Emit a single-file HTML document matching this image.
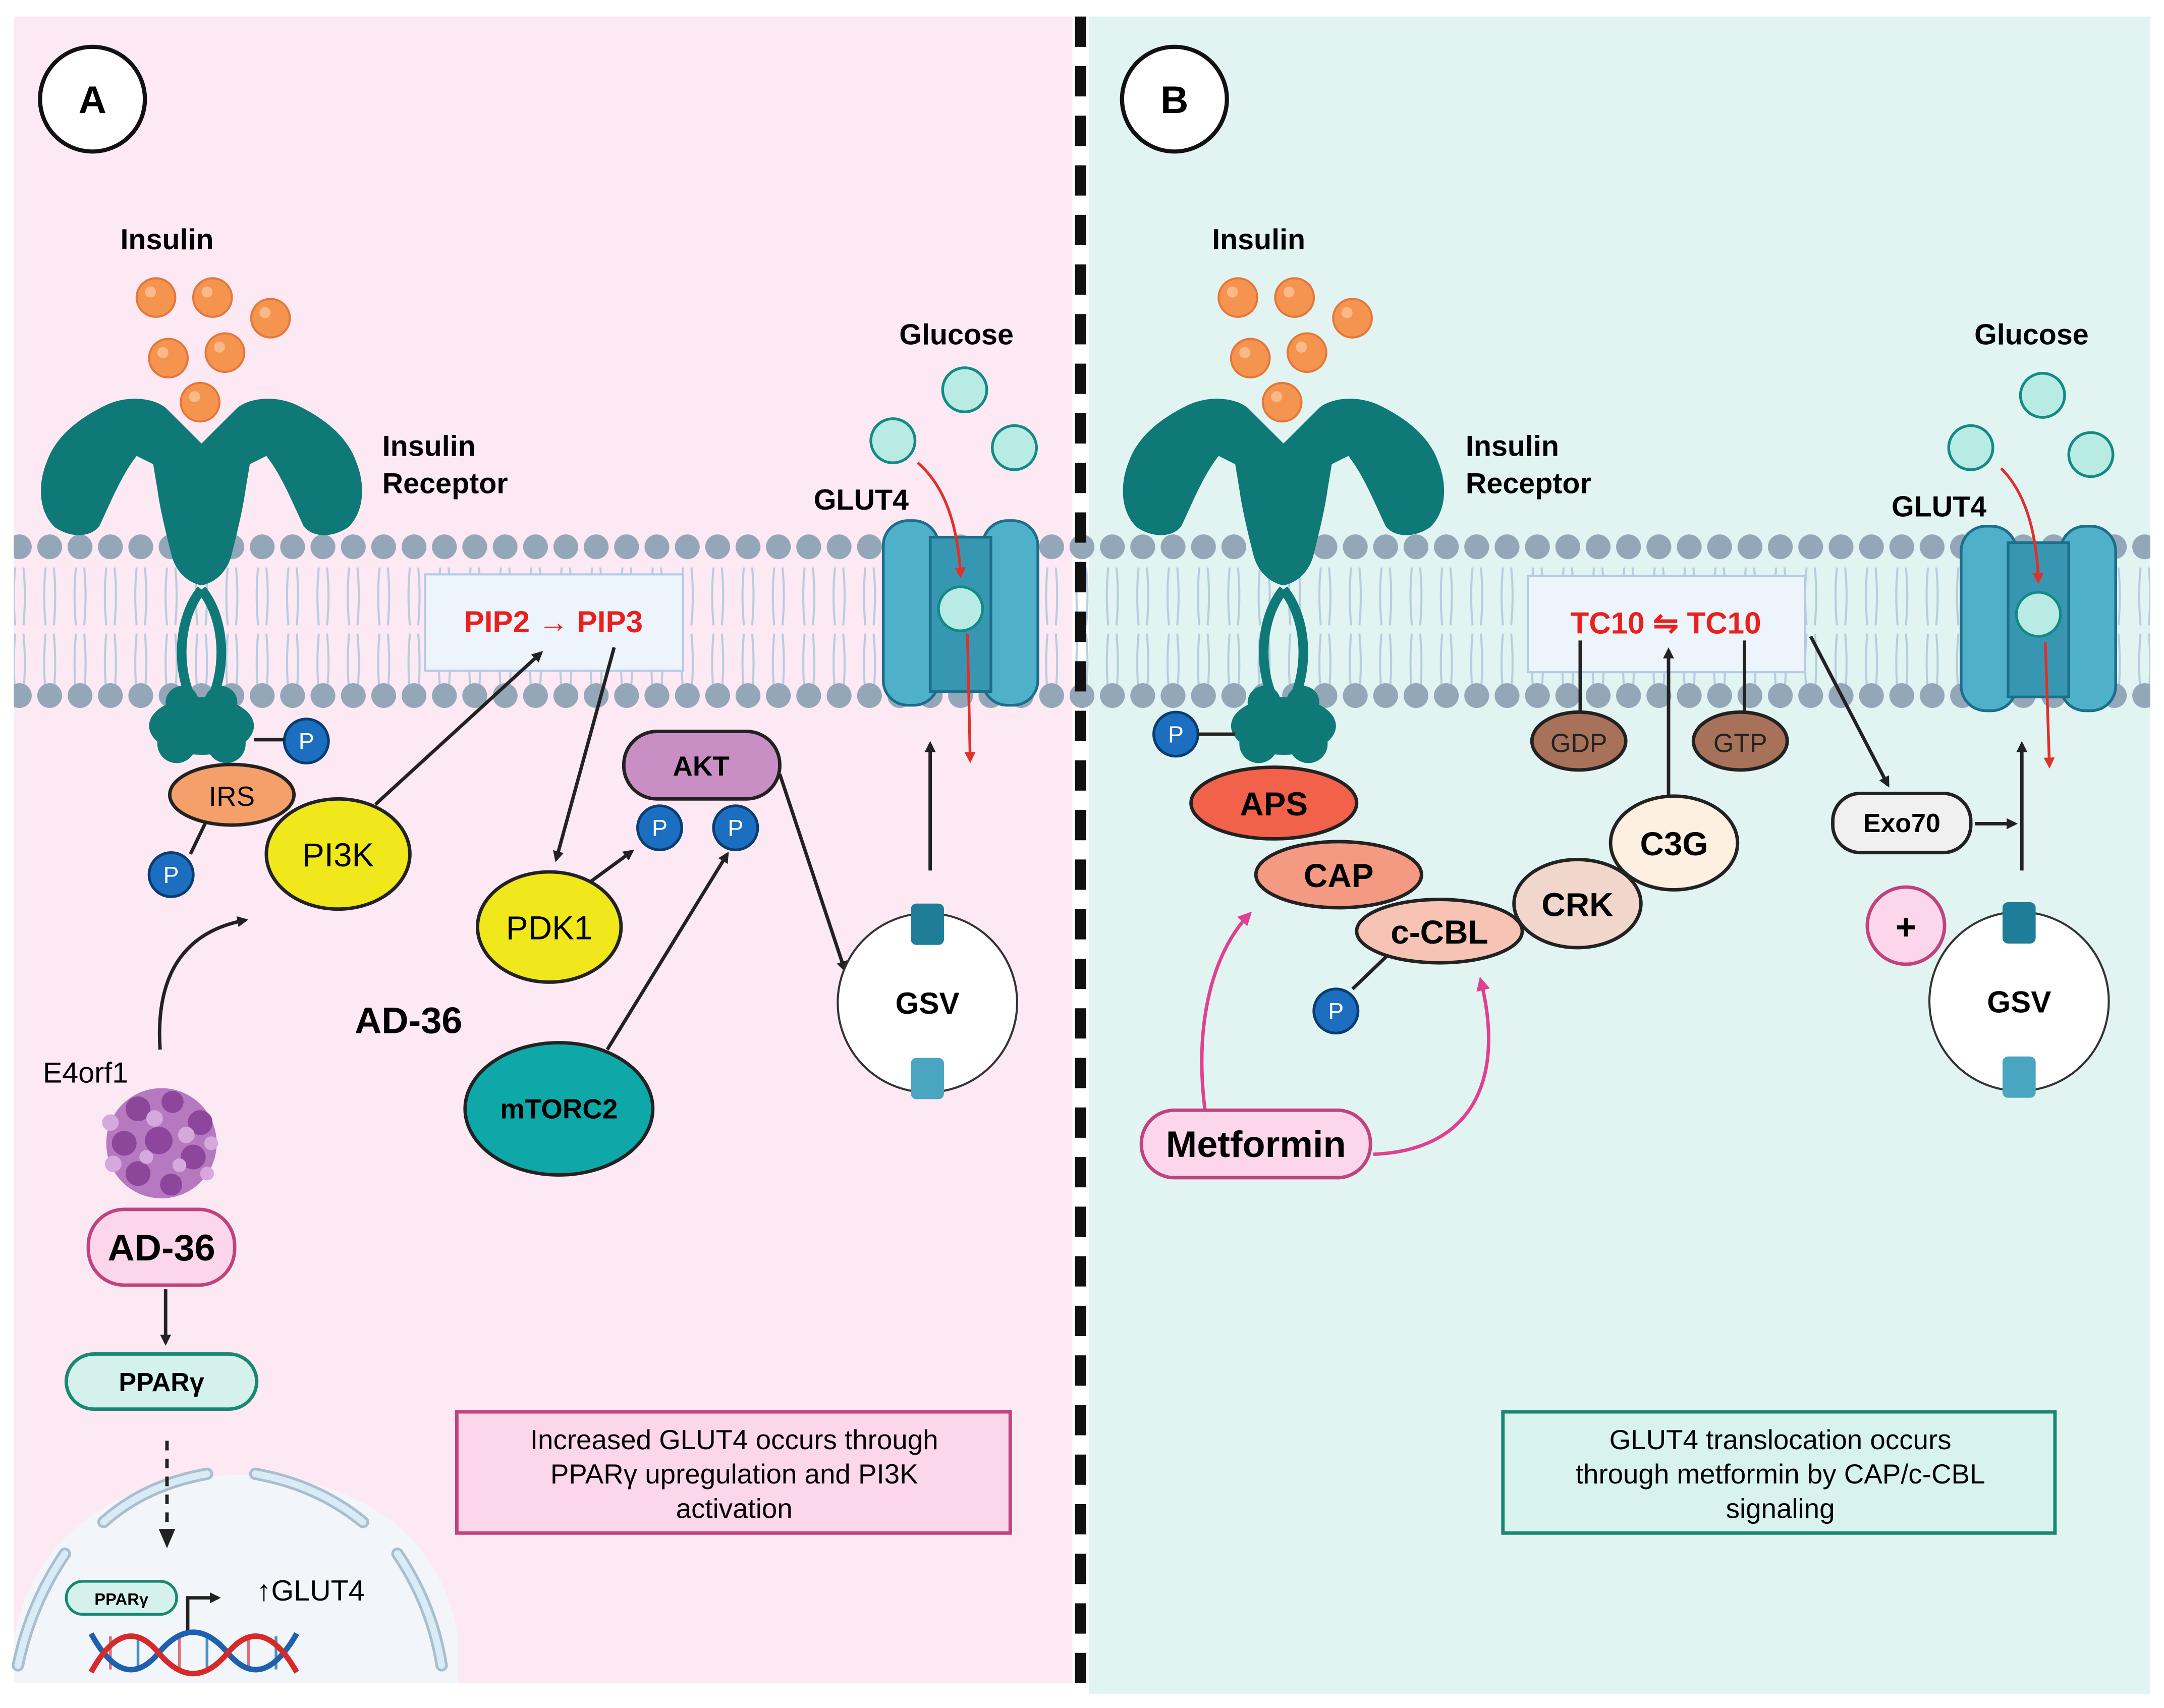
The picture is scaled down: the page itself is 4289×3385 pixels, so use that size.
<!DOCTYPE html>
<html><head><meta charset="utf-8"><style>
html,body{margin:0;padding:0;background:#fff;}
svg{display:block;}
text{font-family:"Liberation Sans",sans-serif;}
</style></head><body>
<svg width="4289" height="3385" viewBox="0 0 1568 1240" preserveAspectRatio="none" xmlns="http://www.w3.org/2000/svg">
<defs>
<marker id="ab" markerWidth="8" markerHeight="8" refX="6" refY="4" orient="auto" markerUnits="userSpaceOnUse"><path d="M0,0 L8,4 L0,8 z" fill="#222"/></marker>
<marker id="ar" markerWidth="8" markerHeight="8" refX="6" refY="4" orient="auto" markerUnits="userSpaceOnUse"><path d="M0,0 L8,4 L0,8 z" fill="#e0302a"/></marker>
<marker id="ap" markerWidth="10" markerHeight="10" refX="7" refY="5" orient="auto" markerUnits="userSpaceOnUse"><path d="M0,0 L10,5 L0,10 z" fill="#e0408f"/></marker>
<pattern id="heads" x="3" y="382" width="22" height="108" patternUnits="userSpaceOnUse"><circle cx="11" cy="15" r="9" fill="#93a7b8"/></pattern>
<pattern id="tails" x="3" y="412" width="22" height="90" patternUnits="userSpaceOnUse">
<path d="M8,0 Q6,20 8,42 M14,0 Q16,20 14,42 M8,90 Q6,70 8,48 M14,90 Q16,70 14,48" stroke="#b6cde0" stroke-width="1.5" fill="none"/></pattern>
<g id="ins"><circle r="14" fill="#f5944f" stroke="#e5763a" stroke-width="1.5"/><circle cx="-4" cy="-4" r="4" fill="#f9b98a"/></g>
<g id="glc"><circle r="16" fill="#b8ebe3" stroke="#148a85" stroke-width="2"/></g>
<g id="P"><circle r="16" fill="#1c6fc0" stroke="#0a3d70" stroke-width="2"/><text y="6" text-anchor="middle" font-size="17" fill="#fff">P</text></g>
<g id="rec" fill="#0f7977">
<path d="M146,322 L120,296 C110,288 90,287 75,295 C55,305 40,318 34,335 C27,352 28,372 40,383 C52,391 66,390 72,382 C80,365 88,345 99,331 L111,337 L114,355 C116,370 121,390 124,402 C127,415 136,423 146,425 C156,423 165,415 168,402 C171,390 176,370 178,355 L181,337 L193,331 C204,345 212,365 220,382 C226,390 240,391 252,383 C264,372 265,352 258,335 C252,318 237,305 217,295 C202,287 182,288 172,296 Z"/>
<path d="M146,428 C128,450 128,488 140,510 M146,428 C164,450 164,488 152,510" fill="none" stroke="#0f7977" stroke-width="7"/>
<ellipse cx="146" cy="527" rx="38" ry="21"/><circle cx="128" cy="540" r="14"/><circle cx="164" cy="540" r="14"/><circle cx="132" cy="510" r="12"/><circle cx="160" cy="510" r="12"/>
</g>
<g id="glut">
<rect x="-56" y="-64" width="40" height="134" rx="18" fill="#4fb0c9" stroke="#1b6f8a" stroke-width="2"/>
<rect x="16" y="-64" width="40" height="134" rx="18" fill="#4fb0c9" stroke="#1b6f8a" stroke-width="2"/>
<rect x="-22" y="-52" width="44" height="112" fill="#3797b2" stroke="#1b6f8a" stroke-width="2"/>
<circle cx="0" cy="0" r="16" fill="#b8ebe3" stroke="#148a85" stroke-width="2"/>
</g>
<g id="gsv"><circle r="65" fill="#fff" stroke="#333" stroke-width="1.5"/>
<rect x="-12" y="-72" width="24" height="30" rx="4" fill="#1f7d97"/><rect x="-12" y="40" width="24" height="30" rx="4" fill="#4aa6c0"/>
<text y="8" text-anchor="middle" font-size="22" font-weight="bold">GSV</text></g>
</defs>
<rect width="1568" height="1240" fill="#fff"/>
<rect x="10" y="12" width="767" height="1210" fill="#fde9f4"/>
<rect x="789" y="12" width="769" height="1218" fill="#e1f4f2"/>
<!-- membrane -->
<rect x="10" y="412" width="1548" height="90" fill="url(#tails)"/>
<rect x="10" y="382" width="1548" height="30" fill="url(#heads)"/>
<rect x="10" y="490" width="1548" height="30" fill="url(#heads)"/>
<line x1="783" y1="12" x2="783" y2="1230" stroke="#111" stroke-width="8" stroke-dasharray="22,14"/>
<circle cx="67" cy="72" r="38" fill="#fff" stroke="#111" stroke-width="3"/><text x="67" y="82" text-anchor="middle" font-size="28" font-weight="bold">A</text>
<circle cx="851" cy="72" r="38" fill="#fff" stroke="#111" stroke-width="3"/><text x="851" y="82" text-anchor="middle" font-size="28" font-weight="bold">B</text>

<!-- PANEL A -->
<text x="121" y="181" text-anchor="middle" font-size="21" font-weight="bold">Insulin</text>
<use href="#ins" x="113" y="216"/><use href="#ins" x="154" y="216"/><use href="#ins" x="196" y="231"/><use href="#ins" x="122" y="260"/><use href="#ins" x="163" y="256"/>
<use href="#rec"/>
<use href="#ins" x="145" y="292"/>
<text x="277" y="331" font-size="21" font-weight="bold">Insulin</text><text x="277" y="358" font-size="21" font-weight="bold">Receptor</text>
<rect x="308" y="417" width="187" height="70" fill="#eef4fb" stroke="#b5cbe3" stroke-width="1.5"/>
<text x="401" y="459" text-anchor="middle" font-size="22" font-weight="bold" fill="#e8201e">PIP2 → PIP3</text>
<text x="693" y="250" text-anchor="middle" font-size="21" font-weight="bold">Glucose</text>
<use href="#glc" x="699" y="283"/><use href="#glc" x="647" y="320"/><use href="#glc" x="735" y="325"/>
<text x="624" y="370" text-anchor="middle" font-size="21" font-weight="bold">GLUT4</text>
<use href="#glut" x="696" y="442"/>
<path d="M665,336 Q693,360 696,418" stroke="#e0302a" stroke-width="2" fill="none" marker-end="url(#ar)"/>
<line x1="701" y1="460" x2="703" y2="552" stroke="#e0302a" stroke-width="2" marker-end="url(#ar)"/>
<use href="#P" x="222" y="538"/><line x1="184" y1="537" x2="206" y2="537" stroke="#222" stroke-width="2.5"/>
<line x1="138" y1="620" x2="150" y2="595" stroke="#222" stroke-width="2.5"/>
<ellipse cx="168" cy="577" rx="45" ry="22" fill="#f5a06a" stroke="#222" stroke-width="2.5"/><text x="168" y="585" text-anchor="middle" font-size="20">IRS</text>
<use href="#P" x="124" y="635"/>
<ellipse cx="245" cy="620" rx="52" ry="40" fill="#f0e81a" stroke="#222" stroke-width="2.5"/><text x="245" y="629" text-anchor="middle" font-size="24">PI3K</text>
<line x1="272" y1="584" x2="392" y2="474" stroke="#222" stroke-width="2.5" marker-end="url(#ab)"/>
<line x1="445" y1="470" x2="403" y2="624" stroke="#222" stroke-width="2.5" marker-end="url(#ab)"/>
<ellipse cx="398" cy="673" rx="52" ry="40" fill="#f0e81a" stroke="#222" stroke-width="2.5"/><text x="398" y="682" text-anchor="middle" font-size="24">PDK1</text>
<line x1="428" y1="640" x2="458" y2="618" stroke="#222" stroke-width="2.5" marker-end="url(#ab)"/>
<rect x="452" y="531" width="113" height="49" rx="24" fill="#c98fc5" stroke="#222" stroke-width="2.5"/><text x="508" y="563" text-anchor="middle" font-size="20" font-weight="bold">AKT</text>
<use href="#P" x="478" y="601"/><use href="#P" x="533" y="601"/>
<line x1="440" y1="762" x2="527" y2="620" stroke="#222" stroke-width="2.5" marker-end="url(#ab)"/>
<ellipse cx="405" cy="805" rx="68" ry="48" fill="#0ea8a8" stroke="#222" stroke-width="2.5"/><text x="405" y="812" text-anchor="middle" font-size="20" font-weight="bold">mTORC2</text>
<line x1="565" y1="562" x2="612" y2="704" stroke="#222" stroke-width="2.5" marker-end="url(#ab)"/>
<text x="296" y="750" text-anchor="middle" font-size="27" font-weight="bold">AD-36</text>
<use href="#gsv" x="672" y="728"/>
<line x1="674" y1="632" x2="674" y2="540" stroke="#222" stroke-width="2.5" marker-end="url(#ab)"/>
<path d="M116,762 C112,700 140,675 178,668" stroke="#222" stroke-width="2.5" fill="none" marker-end="url(#ab)"/>
<text x="62" y="786" text-anchor="middle" font-size="21">E4orf1</text>
<g>
<circle cx="117" cy="830" r="40" fill="#b679c0"/>
<g fill="#8c479c"><circle cx="100" cy="805" r="9"/><circle cx="125" cy="800" r="8"/><circle cx="145" cy="815" r="9"/><circle cx="90" cy="830" r="9"/><circle cx="115" cy="828" r="10"/><circle cx="140" cy="840" r="9"/><circle cx="100" cy="852" r="9"/><circle cx="124" cy="860" r="8"/></g>
<g fill="#d6a9dc"><circle cx="112" cy="812" r="6"/><circle cx="135" cy="824" r="6"/><circle cx="82" cy="845" r="6"/><circle cx="150" cy="852" r="5"/><circle cx="106" cy="840" r="5"/><circle cx="130" cy="846" r="5"/><circle cx="80" cy="815" r="6"/><circle cx="153" cy="830" r="5"/></g>
</g>
<rect x="64" y="878" width="106" height="55" rx="26" fill="#fcd7ec" stroke="#c0437e" stroke-width="2.5"/><text x="117" y="915" text-anchor="middle" font-size="27" font-weight="bold">AD-36</text>
<line x1="120" y1="936" x2="120" y2="975" stroke="#222" stroke-width="2.5" marker-end="url(#ab)"/>
<rect x="48" y="983" width="138" height="40" rx="20" fill="#d4f1ee" stroke="#1a8870" stroke-width="2.5"/><text x="117" y="1010" text-anchor="middle" font-size="19" font-weight="bold">PPARγ</text>
<!-- nucleus -->
<path d="M10,1222 L10,1190 C25,1110 90,1071 172,1071 C255,1071 320,1110 332,1190 L332,1222 Z" fill="#f2f6fa"/>
<g fill="none" stroke-linecap="round">
<path d="M75,1105 Q105,1078 150,1070 M185,1070 Q230,1078 263,1105 M47,1128 Q22,1165 13,1209 M288,1128 Q313,1165 320,1209" stroke="#a9bfcd" stroke-width="9"/>
<path d="M75,1105 Q105,1078 150,1070 M185,1070 Q230,1078 263,1105 M47,1128 Q22,1165 13,1209 M288,1128 Q313,1165 320,1209" stroke="#d9ebf6" stroke-width="5"/>
</g>
<line x1="121" y1="1046" x2="121" y2="1114" stroke="#222" stroke-width="2.5" stroke-dasharray="7,6"/>
<path d="M115,1110 L127,1110 L121,1124 Z" fill="#222"/>
<rect x="48" y="1148" width="80" height="24" rx="12" fill="#d4f1ee" stroke="#1a8870" stroke-width="2"/><text x="88" y="1165" text-anchor="middle" font-size="12" font-weight="bold">PPARγ</text>
<path d="M136,1184 L136,1160 L158,1160" stroke="#222" stroke-width="2.5" fill="none" marker-end="url(#ab)"/>
<text x="186" y="1162" font-size="21">↑GLUT4</text>
<g stroke-width="2"><line x1="80" y1="1188" x2="80" y2="1212" stroke="#d9707a"/><line x1="100" y1="1188" x2="100" y2="1212" stroke="#4b8fc0"/><line x1="130" y1="1188" x2="130" y2="1212" stroke="#d9707a"/><line x1="150" y1="1188" x2="150" y2="1212" stroke="#4b8fc0"/><line x1="180" y1="1188" x2="180" y2="1212" stroke="#d9707a"/><line x1="200" y1="1188" x2="200" y2="1212" stroke="#4b8fc0"/></g>
<path d="M66,1186 Q90,1230 115,1200 T165,1200 T215,1186" stroke="#1d5fb0" stroke-width="4" fill="none"/>
<path d="M66,1214 Q90,1170 115,1200 T165,1200 T215,1214" stroke="#d62a2a" stroke-width="4" fill="none"/>
<rect x="331" y="1025" width="401" height="88" fill="#fcd7ec" stroke="#c0437e" stroke-width="2.5"/>
<text x="532" y="1052" text-anchor="middle" font-size="20">Increased GLUT4 occurs through</text>
<text x="532" y="1077" text-anchor="middle" font-size="20">PPARγ upregulation and PI3K</text>
<text x="532" y="1102" text-anchor="middle" font-size="20">activation</text>

<!-- PANEL B -->
<text x="912" y="181" text-anchor="middle" font-size="21" font-weight="bold">Insulin</text>
<use href="#ins" x="897" y="216"/><use href="#ins" x="938" y="216"/><use href="#ins" x="980" y="231"/><use href="#ins" x="906" y="260"/><use href="#ins" x="947" y="256"/>
<use href="#rec" x="784" y="0"/>
<use href="#ins" x="929" y="292"/>
<text x="1062" y="331" font-size="21" font-weight="bold">Insulin</text><text x="1062" y="358" font-size="21" font-weight="bold">Receptor</text>
<rect x="1107" y="418" width="201" height="70" fill="#eef4fb" stroke="#b5cbe3" stroke-width="1.5"/>
<text x="1207" y="460" text-anchor="middle" font-size="22" font-weight="bold" fill="#e8201e">TC10 ⇋ TC10</text>
<text x="1472" y="250" text-anchor="middle" font-size="21" font-weight="bold">Glucose</text>
<use href="#glc" x="1480" y="287"/><use href="#glc" x="1428" y="325"/><use href="#glc" x="1515" y="330"/>
<text x="1405" y="375" text-anchor="middle" font-size="21" font-weight="bold">GLUT4</text>
<use href="#glut" x="1477" y="446"/>
<path d="M1450,340 Q1475,365 1477,422" stroke="#e0302a" stroke-width="2" fill="none" marker-end="url(#ar)"/>
<line x1="1482" y1="466" x2="1485" y2="556" stroke="#e0302a" stroke-width="2" marker-end="url(#ar)"/>
<line x1="1145" y1="465" x2="1145" y2="522" stroke="#222" stroke-width="2.5"/>
<line x1="1264" y1="465" x2="1264" y2="522" stroke="#222" stroke-width="2.5"/>
<ellipse cx="1144" cy="538" rx="34" ry="21" fill="#a8725a" stroke="#222" stroke-width="2.5"/><text x="1144" y="546" text-anchor="middle" font-size="19" fill="#222">GDP</text>
<ellipse cx="1261" cy="538" rx="34" ry="21" fill="#a8725a" stroke="#222" stroke-width="2.5"/><text x="1261" y="546" text-anchor="middle" font-size="19" fill="#222">GTP</text>
<line x1="1209" y1="580" x2="1209" y2="472" stroke="#222" stroke-width="2.5" marker-end="url(#ab)"/>
<line x1="1312" y1="462" x2="1368" y2="570" stroke="#222" stroke-width="2.5" marker-end="url(#ab)"/>
<use href="#P" x="852" y="533"/><line x1="868" y1="533" x2="895" y2="533" stroke="#222" stroke-width="2.5"/>
<ellipse cx="923" cy="583" rx="60" ry="26" fill="#f2614a" stroke="#222" stroke-width="2.5"/><text x="923" y="592" text-anchor="middle" font-size="24" font-weight="bold">APS</text>
<ellipse cx="970" cy="635" rx="60" ry="24" fill="#f59a82" stroke="#222" stroke-width="2.5"/><text x="970" y="644" text-anchor="middle" font-size="24" font-weight="bold">CAP</text>
<ellipse cx="1213" cy="612" rx="46" ry="34" fill="#fdf0e1" stroke="#222" stroke-width="2.5"/><text x="1213" y="621" text-anchor="middle" font-size="24" font-weight="bold">C3G</text>
<ellipse cx="1143" cy="656" rx="46" ry="32" fill="#f1d6cc" stroke="#222" stroke-width="2.5"/><text x="1143" y="665" text-anchor="middle" font-size="24" font-weight="bold">CRK</text>
<line x1="980" y1="718" x2="1005" y2="694" stroke="#222" stroke-width="2.5"/>
<ellipse cx="1043" cy="676" rx="60" ry="23" fill="#f7c3b5" stroke="#222" stroke-width="2.5"/><text x="1043" y="685" text-anchor="middle" font-size="24" font-weight="bold">c-CBL</text>
<use href="#P" x="968" y="734"/>
<rect x="1328" y="576" width="100" height="43" rx="20" fill="#f0f0f0" stroke="#222" stroke-width="2.5"/><text x="1378" y="604" text-anchor="middle" font-size="19" font-weight="bold">Exo70</text>
<line x1="1431" y1="598" x2="1460" y2="598" stroke="#222" stroke-width="2.5" marker-end="url(#ab)"/>
<line x1="1465" y1="632" x2="1465" y2="540" stroke="#222" stroke-width="2.5" marker-end="url(#ab)"/>
<circle cx="1381" cy="672" r="28" fill="#fcd7ec" stroke="#c0437e" stroke-width="2.5"/><text x="1381" y="682" text-anchor="middle" font-size="26" font-weight="bold">+</text>
<use href="#gsv" x="1463" y="727"/>
<path d="M873,805 C865,740 880,690 905,664" stroke="#e0408f" stroke-width="2.5" fill="none" marker-end="url(#ap)"/>
<path d="M995,838 C1070,835 1090,780 1073,712" stroke="#e0408f" stroke-width="2.5" fill="none" marker-end="url(#ap)"/>
<rect x="827" y="806" width="166" height="49" rx="24" fill="#fcd7ec" stroke="#c0437e" stroke-width="2.5"/><text x="910" y="840" text-anchor="middle" font-size="27" font-weight="bold">Metformin</text>
<rect x="1089" y="1025" width="400" height="88" fill="#d8f2ef" stroke="#1a8870" stroke-width="2.5"/>
<text x="1290" y="1052" text-anchor="middle" font-size="20">GLUT4 translocation occurs</text>
<text x="1290" y="1077" text-anchor="middle" font-size="20">through metformin by CAP/c-CBL</text>
<text x="1290" y="1102" text-anchor="middle" font-size="20">signaling</text>
</svg>
</body></html>
